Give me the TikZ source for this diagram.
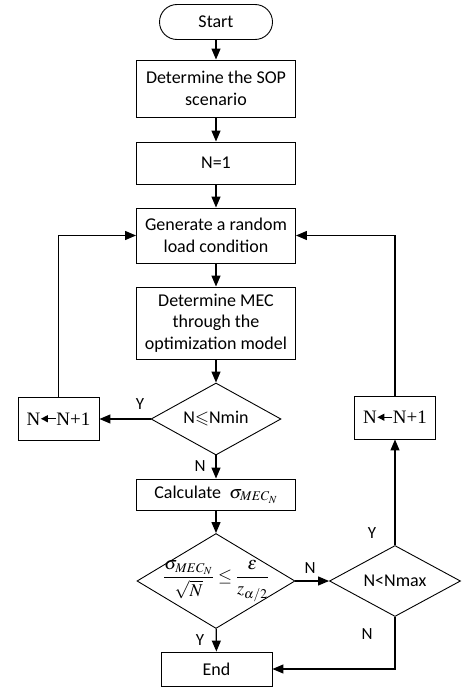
\documentclass[tikz,border=0pt]{standalone}
\usepackage{amsmath,amssymb}
\usepackage{mathptmx}
\usepackage[no-math]{fontspec}
\setmainfont{Carlito}
\newfontfamily\timesfont{Liberation Serif}
\usetikzlibrary{arrows.meta,shapes.geometric}
\newcommand{\incarrow}{\tikz[baseline=-0.75ex]\draw[line width=1.1pt,-{Triangle[length=7pt,width=7pt]}] (15pt,0) -- (0,0);}

\begin{document}
\begin{tikzpicture}[x=1pt, y=-1pt,
        every node/.style={font=\fontsize{18}{21.5}\selectfont, inner sep=0pt},
        box/.style={draw, line width=0.9pt, minimum width=159pt, align=center},
        term/.style={draw, line width=0.9pt, rounded corners=17.5pt,
            minimum width=113pt, minimum height=35pt},
        cond/.style={draw, diamond, line width=0.9pt},
        incbox/.style={box, minimum width=81pt, minimum height=43pt,
            font=\timesfont\fontsize{19}{22}\selectfont},
        flow/.style={line width=1.2pt, -{Triangle[length=11pt,width=9pt]}},
        lbl/.style={font=\fontsize{17}{20}\selectfont}
    ]
        \useasboundingbox (0,0) rectangle (467,688);

        % Main column
        \node[term] (start) at (216,22) {Start};
        \node[box, minimum height=57pt] (sop) at (216,88.5) {Determine the SOP\\scenario};
        \node[box, minimum height=42pt] (n1) at (216,163) {N=1};
        \node[box, minimum height=55pt] (gen) at (216,235.5) {Generate a random\\load condition};
        \node[box, minimum height=72pt] (mec) at (216,323) {Determine MEC\\through the\\optimization model};
        \node[cond, minimum width=130pt, minimum height=72pt,
            label=center:{N$\leqslant$Nmin}] (nmin) at (216,419) {};
        \node[box, minimum height=31pt] (calc) at (216,494.5) {Calculate \ $\sigma_{MEC_N}$};
        \node[cond, minimum width=158pt, minimum height=95pt,
            label=center:{$\dfrac{\sigma_{MEC_N}}{\sqrt{N}}\le\dfrac{\varepsilon}{z_{\alpha/2}}$}] (conv) at (216,581) {};
        \node[box, minimum width=111pt, minimum height=34pt] (end) at (216.5,669) {End};

        % Loop boxes and check
        \node[incbox] (incl) at (58.5,419) {N\incarrow N+1};
        \node[incbox] (incr) at (395,417.5) {N\incarrow N+1};
        \node[cond, minimum width=131pt, minimum height=71pt,
            label=center:{N<Nmax}] (nmax) at (395,581) {};

        % Labels
        \node[lbl] (ynmin) at (140,404) {Y};
        \node[lbl] (nnmin) at (200,466) {N};
        \node[lbl] (nconv) at (310,568) {N};
        \node[lbl] (yconv) at (200,640) {Y};
        \node[lbl] (ynmax) at (372,533) {Y};
        \node[lbl] (nnmax) at (367,634) {N};

        % Connectors
        \draw[flow] (start) -- (sop);
        \draw[flow] (sop) -- (n1);
        \draw[flow] (n1) -- (gen);
        \draw[flow] (gen) -- (mec);
        \draw[flow] (mec) -- (nmin);
        \draw[flow] (nmin) -- (calc);
        \draw[flow] (calc) -- (conv);
        \draw[flow] (conv) -- (end);
        \draw[flow] (nmin) -- (incl);
        \draw[flow] (incl.north) |- (gen.west);
        \draw[flow] (conv) -- (nmax);
        \draw[flow] (nmax.north) -- (incr.south);
        \draw[flow] (incr.north) |- (gen.east);
        \draw[flow] (nmax.south) |- (end.east);
\end{tikzpicture}
\end{document}
